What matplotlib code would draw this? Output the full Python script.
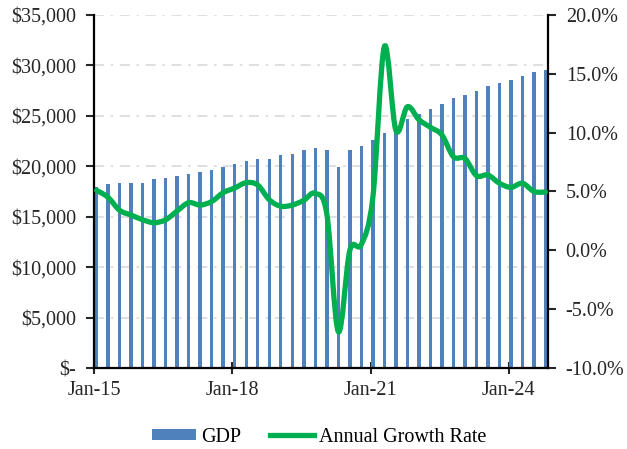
import matplotlib
matplotlib.use("Agg")
import matplotlib.pyplot as plt
from matplotlib.path import Path
from matplotlib.patches import PathPatch
from matplotlib.lines import Line2D
from matplotlib.patches import Patch
import matplotlib.ticker as mticker
import numpy as np

plt.rcParams['font.family'] = ['Liberation Serif', 'DejaVu Serif']

# Quarterly data, Jan-15 .. Oct-24
quarters = list(range(40))
gdp = [17990, 18220, 18350, 18350, 18350, 18720, 18880, 19050, 19250, 19410,
       19580, 19910, 20240, 20570, 20730, 20730, 21100, 21260, 21600, 21760,
       21600, 19950, 21630, 21960, 22620, 23300, 23900, 24670, 25200, 25690,
       26190, 26720, 27050, 27420, 27910, 28270, 28570, 28930, 29300, 29560]
growth = [5.1, 4.5, 3.4, 3.0, 2.6, 2.35, 2.6, 3.35, 4.05, 3.85,
          4.15, 4.9, 5.3, 5.75, 5.55, 4.3, 3.75, 3.85, 4.25, 4.85,
          3.1, -6.9, 0.0, 0.5, 4.5, 17.3, 10.2, 12.2, 11.1, 10.45,
          9.8, 7.95, 7.8, 6.35, 6.4, 5.7, 5.35, 5.7, 5.0, 4.95]
xtick_pos = [0, 12, 24, 36]
xtick_labels = ['Jan-15', 'Jan-18', 'Jan-21', 'Jan-24']

bar_color = '#4F81BD'
line_color = '#00B050'
fs = 14.5
offset = 0.2   # marks sit slightly after the period start on the date axis

fig = plt.figure(figsize=(6.27, 4.49), dpi=100)
ax = fig.add_axes([0.1504, 0.180, 0.7231, 0.787])
ax2 = ax.twinx()

xpos = np.array(quarters, dtype=float) + offset
ax.bar(xpos, gdp, width=0.3, color=bar_color, zorder=2)
ax.set_ylim(0, 35000)
ax.set_yticks(np.arange(0, 35001, 5000))
ax.yaxis.set_major_formatter(mticker.FuncFormatter(
    lambda v, p: '$-' if v == 0 else '${:,.0f}'.format(v)))
ax.grid(axis='y', color='#D9D9D9', linestyle=(0, (6, 4, 1.5, 4)), linewidth=1.2, zorder=0)
ax.set_axisbelow(True)
ax.set_xlim(0, 39.39)
ax.set_xticks(xtick_pos)
ax.set_xticklabels(xtick_labels)

# Smoothed growth line (Bezier segments through data points)
xs = xpos
ys = np.array(growth, dtype=float)
verts = [(xs[0], ys[0])]
codes = [Path.MOVETO]
n = len(xs)
for i in range(n - 1):
    p0 = np.array([xs[max(i - 1, 0)], ys[max(i - 1, 0)]])
    p1 = np.array([xs[i], ys[i]])
    p2 = np.array([xs[i + 1], ys[i + 1]])
    p3 = np.array([xs[min(i + 2, n - 1)], ys[min(i + 2, n - 1)]])
    c1 = p1 + (p2 - p0) / 6.0
    c2 = p2 - (p3 - p1) / 6.0
    verts += [tuple(c1), tuple(c2), tuple(p2)]
    codes += [Path.CURVE4] * 3
path = Path(verts, codes)
ax2.add_patch(PathPatch(path, fill=False, edgecolor=line_color, linewidth=3.8,
                        capstyle='round', joinstyle='round', zorder=3))
ax2.set_ylim(-10, 20)
ax2.set_yticks(np.arange(-10, 20.1, 5))
ax2.yaxis.set_major_formatter(mticker.FuncFormatter(lambda v, p: '{:.1f}%'.format(v)))
ax2.set_xlim(0, 39.39)

for a in (ax, ax2):
    a.spines['top'].set_visible(False)
    for s in ('left', 'right', 'bottom'):
        a.spines[s].set_linewidth(1.6)
        a.spines[s].set_color('black')
    a.tick_params(axis='both', labelsize=fs, colors='#262626', width=1.5, length=5)
ax.spines['right'].set_visible(False)
ax2.spines['left'].set_visible(False)
ax2.spines['bottom'].set_visible(False)
ax.tick_params(axis='x', direction='inout', length=9, pad=5)
ax.tick_params(axis='y', direction='out', length=6, pad=7)
ax2.tick_params(axis='y', direction='out', length=6, pad=7)

handles = [Patch(facecolor=bar_color, edgecolor='none'),
           Line2D([0], [0], color=line_color, linewidth=3.8)]
fig.legend(handles, ['GDP', 'Annual Growth Rate'], loc='center',
           bbox_to_anchor=(0.509, 0.026), ncol=2, frameon=False, fontsize=fs,
           handlelength=2.2, handleheight=0.5, handletextpad=0.25, columnspacing=1.4,
           borderpad=0, borderaxespad=0)

fig.savefig('out.png', dpi=100)
